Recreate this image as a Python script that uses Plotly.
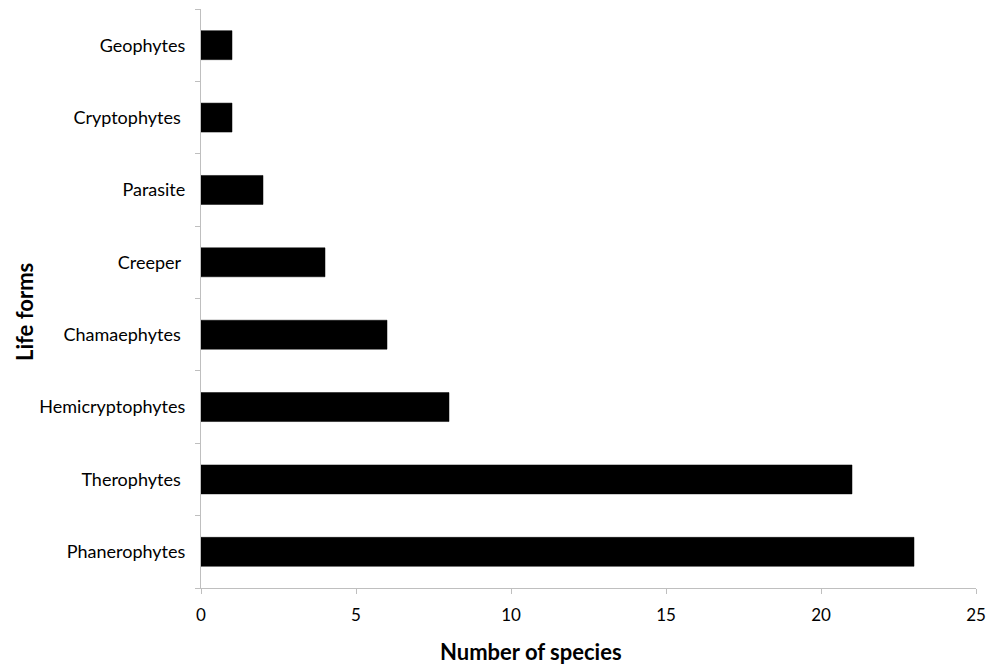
import plotly.graph_objects as go

categories = ["Phanerophytes", "Therophytes ", "Hemicryptophytes", "Chamaephytes ",
              "Creeper ", "Parasite", "Cryptophytes ", "Geophytes"]
species_counts = [23, 21, 8, 6, 4, 2, 1, 1]
x_ticks = [0, 5, 10, 15, 20, 25]

labels = [c.replace(" ", "\u00a0") for c in categories]

fig = go.Figure(go.Bar(
    y=labels, x=species_counts, orientation="h",
    marker=dict(color="black", line=dict(color="black", width=0.5)),
))

W, H = 987, 664
L, R, T, B = 201, 11, 9, 76
pw, ph = W - L - R, H - T - B

font_family = "Lato, 'Open Sans', sans-serif"
fig.update_layout(
    width=W, height=H,
    margin=dict(l=L, r=R, t=T, b=B),
    paper_bgcolor="white", plot_bgcolor="white",
    bargap=0.6,
    showlegend=False,
    font=dict(family=font_family, color="black", size=18),
    xaxis=dict(
        range=[0, 25], tickvals=x_ticks, ticktext=[str(v) for v in x_ticks],
        showgrid=False, zeroline=False,
        showline=True, linecolor="#bfbfbf", linewidth=1.2,
        ticks="outside", ticklen=5, tickcolor="#bfbfbf",
        tickfont=dict(size=17),
        ticklabelstandoff=6,
        automargin=False,
        fixedrange=True,
    ),
    yaxis=dict(
        showgrid=False, zeroline=False,
        showline=True, linecolor="#bfbfbf", linewidth=1.2,
        ticks="outside", ticklen=5, tickcolor="#bfbfbf", tickson="boundaries",
        tickfont=dict(size=18),
        ticklabelstandoff=11,
        automargin=False,
        fixedrange=True,
    ),
    annotations=[
        dict(text="<b>Number of species</b>", font=dict(size=22),
             xref="paper", yref="paper",
             x=(531 - L) / pw, y=-(651 - (T + ph)) / ph,
             xanchor="center", yanchor="middle", showarrow=False),
        dict(text="<b>Life forms</b>", font=dict(size=22), textangle=-90,
             xref="paper", yref="paper",
             x=(24 - L) / pw, y=1 - (312 - T) / ph,
             xanchor="center", yanchor="middle", showarrow=False),
    ],
)

fig.write_html(
    "out.html",
    config={"displayModeBar": False},
    post_script="document.body.style.margin='0';document.body.style.overflow='hidden';",
)
